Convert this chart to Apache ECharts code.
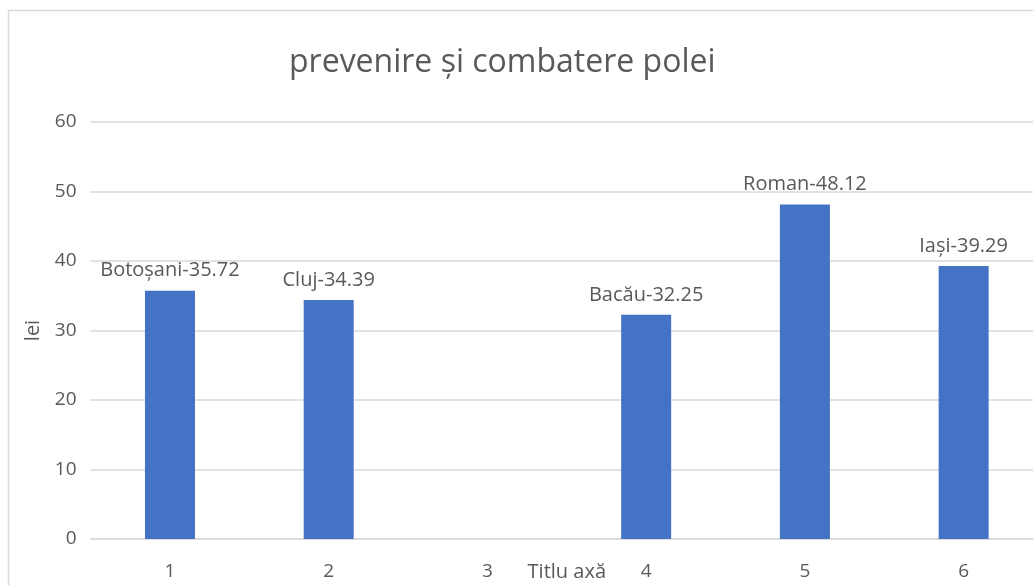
<!DOCTYPE html>
<html>
<head>
<meta charset="utf-8">
<script src="https://cdn.jsdelivr.net/npm/echarts@6/dist/echarts.min.js"></script>
<style>
html, body { margin: 0; padding: 0; background: #fff; }
#chart { width: 1033px; height: 585px; }
</style>
</head>
<body>
<div id="chart"></div>
<script>
// categorii pe axa x
let categories = ['1', '2', '3', '4', '5', '6']
// oras pentru fiecare bara
let cities = ['Botoșani', 'Cluj', '', 'Bacău', 'Roman', 'Iași']
// pret in lei
let values = [35.72, 34.39, null, 32.25, 48.12, 39.29]

let fontFamily = '"Open Sans", "Noto Sans", sans-serif'
let textColor = '#595959'

let chart = echarts.init(document.getElementById('chart'))
let option = {
    animation: false,
    textStyle: { fontFamily: fontFamily },
    graphic: [
        {
            type: 'rect',
            shape: { x: 8.5, y: 10.5, width: 1100, height: 700 },
            style: { fill: 'none', stroke: '#d9d9d9', lineWidth: 1.5 },
            silent: true
        }
    ],
    title: {
        text: 'prevenire și combatere polei',
        left: 284,
        top: 42,
        textStyle: {
            fontFamily: fontFamily,
            fontSize: 32,
            fontWeight: 'normal',
            color: textColor
        }
    },
    grid: {
        left: 90.6,
        right: -10,
        top: 122,
        bottom: 46,
        containLabel: false,
        outerBoundsMode: 'none'
    },
    xAxis: {
        type: 'category',
        data: categories,
        name: 'Titlu axă',
        nameLocation: 'middle',
        nameGap: 23,
        nameMoveOverlap: false,
        nameTextStyle: { color: textColor, fontSize: 20, fontFamily: fontFamily },
        axisLine: { lineStyle: { color: '#d9d9d9', width: 1.5 } },
        axisTick: { show: false },
        axisLabel: { color: textColor, fontSize: 19, margin: 23, fontFamily: fontFamily }
    },
    yAxis: {
        type: 'value',
        min: 0,
        max: 60,
        interval: 10,
        name: 'lei',
        nameLocation: 'middle',
        nameGap: 47,
        nameRotate: 90,
        nameTextStyle: { color: textColor, fontSize: 20, fontFamily: fontFamily },
        axisLine: { show: false },
        axisTick: { show: false },
        axisLabel: { color: textColor, fontSize: 19, margin: 14, fontFamily: fontFamily },
        splitLine: { lineStyle: { color: '#d9d9d9', width: 1.5 } }
    },
    series: [
        {
            type: 'bar',
            data: values,
            barWidth: 50,
            itemStyle: { color: '#4472C4' },
            label: {
                show: true,
                position: 'top',
                distance: 10,
                color: textColor,
                fontSize: 20,
                fontFamily: fontFamily,
                formatter: (params) => {
                    return cities[params.dataIndex] + '-' + params.value.toFixed(2)
                }
            }
        }
    ]
}
chart.setOption(option)
</script>
</body>
</html>
